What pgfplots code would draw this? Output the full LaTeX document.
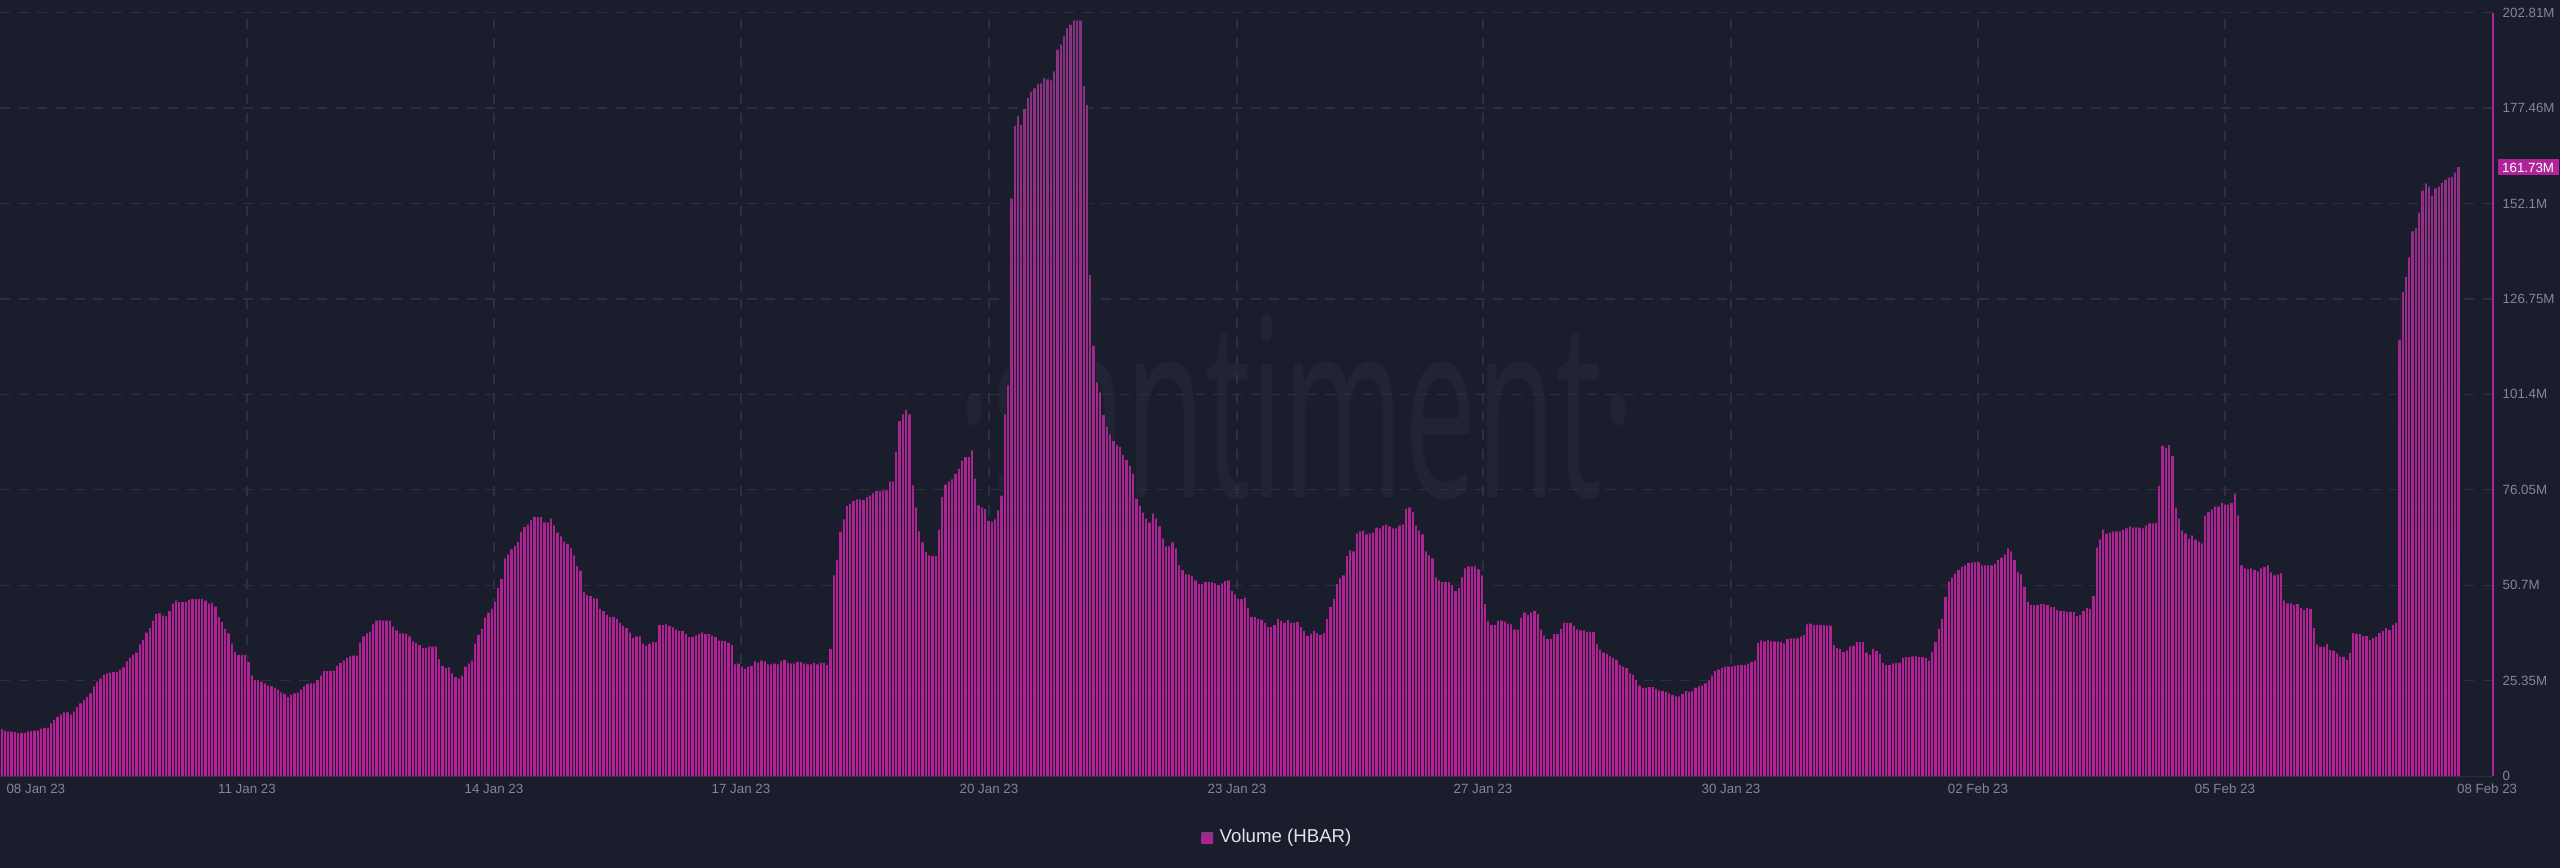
\documentclass[border=0pt]{standalone}
\usepackage{fontspec}
\setmainfont{Liberation Sans}
\newfontfamily\wmfont{Open Sans}
\usepackage{graphicx}
\usepackage{pgfplots}
\usepackage{pgfplotstable}
\pgfplotsset{compat=1.18}

\definecolor{bg}{RGB}{26,29,44}
\definecolor{gridc}{RGB}{44,48,64}
\definecolor{tickc}{RGB}{128,134,156}
\definecolor{wmc}{RGB}{32,36,52}
\definecolor{barTop}{RGB}{134,52,129}
\definecolor{barBot}{RGB}{188,28,152}
\definecolor{mag}{RGB}{176,36,154}
\definecolor{legtext}{RGB}{225,226,235}

% hourly trading volume of HBAR, in millions (08 Jan 23 -- 08 Feb 23)
\pgfplotstableread[row sep=\\]{
v\\
12.5\\ 12.0\\ 11.8\\ 11.8\\ 11.7\\ 11.4\\ 11.4\\ 11.5\\ 11.9\\ 12.0\\
12.0\\ 12.1\\ 12.6\\ 12.8\\ 12.8\\ 14.0\\ 14.9\\ 15.7\\ 16.3\\ 16.9\\
16.9\\ 16.3\\ 17.1\\ 18.3\\ 19.3\\ 20.2\\ 21.0\\ 22.0\\ 23.8\\ 25.0\\
25.9\\ 26.9\\ 27.3\\ 27.5\\ 27.6\\ 27.7\\ 28.3\\ 28.9\\ 30.5\\ 31.4\\
32.2\\ 32.8\\ 35.0\\ 36.2\\ 38.1\\ 39.3\\ 41.3\\ 43.0\\ 43.2\\ 42.6\\
42.4\\ 43.8\\ 45.8\\ 46.6\\ 46.2\\ 46.2\\ 46.3\\ 46.8\\ 47.0\\ 47.0\\
47.0\\ 47.0\\ 46.6\\ 45.8\\ 46.0\\ 45.0\\ 42.3\\ 40.9\\ 39.1\\ 37.9\\
35.2\\ 33.0\\ 32.2\\ 32.2\\ 32.1\\ 30.3\\ 26.7\\ 25.5\\ 25.5\\ 25.0\\
24.6\\ 24.0\\ 23.8\\ 23.4\\ 23.0\\ 22.2\\ 21.8\\ 21.0\\ 21.6\\ 22.0\\
22.2\\ 23.0\\ 23.8\\ 24.4\\ 24.6\\ 24.6\\ 25.5\\ 26.7\\ 27.9\\ 27.9\\
27.9\\ 28.0\\ 29.3\\ 30.1\\ 30.7\\ 31.4\\ 31.8\\ 32.0\\ 32.0\\ 35.4\\
37.1\\ 37.9\\ 38.3\\ 40.3\\ 41.3\\ 41.4\\ 41.3\\ 41.3\\ 41.2\\ 39.7\\
38.7\\ 37.9\\ 37.9\\ 37.8\\ 37.1\\ 35.8\\ 35.4\\ 34.8\\ 34.0\\ 34.0\\
34.4\\ 34.4\\ 34.4\\ 31.0\\ 29.3\\ 28.7\\ 28.9\\ 27.3\\ 26.3\\ 25.9\\
26.7\\ 29.1\\ 29.9\\ 30.7\\ 35.2\\ 37.5\\ 39.1\\ 42.1\\ 43.4\\ 44.4\\
46.2\\ 49.9\\ 52.3\\ 57.8\\ 58.9\\ 60.2\\ 61.1\\ 62.2\\ 64.9\\ 66.2\\
66.8\\ 68.0\\ 68.8\\ 68.8\\ 68.8\\ 67.4\\ 67.4\\ 68.4\\ 66.6\\ 64.7\\
63.7\\ 62.3\\ 61.7\\ 60.5\\ 58.6\\ 55.8\\ 54.6\\ 48.9\\ 48.1\\ 47.8\\
47.2\\ 47.2\\ 44.4\\ 43.8\\ 42.8\\ 42.3\\ 42.3\\ 41.7\\ 40.7\\ 39.9\\
39.3\\ 38.1\\ 36.7\\ 37.1\\ 37.1\\ 35.2\\ 34.6\\ 35.2\\ 35.6\\ 35.6\\
40.1\\ 40.1\\ 40.3\\ 39.9\\ 39.5\\ 38.9\\ 38.5\\ 38.5\\ 37.7\\ 36.9\\
36.9\\ 37.3\\ 37.7\\ 38.1\\ 37.7\\ 37.7\\ 37.3\\ 36.9\\ 36.0\\ 35.9\\
35.9\\ 35.4\\ 34.8\\ 29.7\\ 29.9\\ 29.1\\ 28.5\\ 29.1\\ 29.3\\ 30.5\\
30.1\\ 30.7\\ 30.5\\ 29.7\\ 29.7\\ 29.9\\ 29.7\\ 30.5\\ 30.9\\ 30.1\\
29.9\\ 29.9\\ 30.3\\ 30.3\\ 29.9\\ 29.7\\ 29.7\\ 30.1\\ 29.7\\ 30.1\\
30.1\\ 29.5\\ 33.8\\ 53.3\\ 57.4\\ 64.9\\ 68.2\\ 71.7\\ 72.3\\ 73.1\\
73.5\\ 73.5\\ 73.3\\ 74.1\\ 74.5\\ 75.1\\ 75.7\\ 75.7\\ 75.9\\ 75.9\\
78.2\\ 78.2\\ 86.1\\ 94.3\\ 96.1\\ 97.3\\ 96.1\\ 77.2\\ 71.3\\ 65.0\\
62.1\\ 59.5\\ 58.6\\ 58.4\\ 58.4\\ 65.4\\ 74.1\\ 77.4\\ 78.2\\ 78.8\\
80.2\\ 81.6\\ 83.7\\ 84.7\\ 84.7\\ 86.5\\ 79.0\\ 71.9\\ 71.3\\ 70.9\\
67.8\\ 67.6\\ 68.2\\ 70.6\\ 74.5\\ 96.1\\ 103.8\\ 153.4\\ 172.7\\ 175.3\\
173.0\\ 177.2\\ 180.1\\ 181.7\\ 182.7\\ 183.8\\ 184.0\\ 185.4\\ 185.1\\ 184.8\\
187.2\\ 193.0\\ 194.3\\ 196.5\\ 198.6\\ 199.6\\ 200.7\\ 200.7\\ 200.7\\ 183.3\\
178.2\\ 133.1\\ 114.3\\ 104.6\\ 101.9\\ 95.9\\ 92.7\\ 90.8\\ 89.0\\ 87.9\\
87.4\\ 85.3\\ 84.0\\ 82.4\\ 80.3\\ 73.7\\ 71.8\\ 70.0\\ 68.4\\ 67.3\\
69.7\\ 68.4\\ 66.3\\ 63.1\\ 61.0\\ 61.0\\ 62.1\\ 60.5\\ 56.0\\ 54.7\\
53.6\\ 53.6\\ 53.1\\ 52.0\\ 51.0\\ 51.0\\ 51.5\\ 51.5\\ 51.5\\ 51.2\\
50.7\\ 51.2\\ 51.8\\ 52.0\\ 49.1\\ 48.3\\ 47.0\\ 47.0\\ 47.5\\ 44.6\\
42.2\\ 42.2\\ 41.7\\ 41.5\\ 40.7\\ 39.6\\ 39.6\\ 40.1\\ 41.7\\ 41.2\\
40.7\\ 41.5\\ 40.7\\ 40.7\\ 40.9\\ 39.6\\ 38.6\\ 37.2\\ 37.8\\ 38.6\\
38.0\\ 37.5\\ 38.0\\ 41.7\\ 44.9\\ 47.0\\ 51.0\\ 52.5\\ 53.3\\ 58.4\\
59.9\\ 59.7\\ 64.4\\ 65.0\\ 65.2\\ 64.2\\ 64.4\\ 64.7\\ 66.0\\ 65.8\\
66.5\\ 66.8\\ 66.3\\ 65.8\\ 65.8\\ 66.5\\ 66.8\\ 71.0\\ 71.3\\ 70.2\\
66.5\\ 65.2\\ 64.2\\ 59.7\\ 58.6\\ 57.8\\ 52.8\\ 52.0\\ 51.5\\ 51.5\\
51.5\\ 50.7\\ 49.1\\ 49.9\\ 52.8\\ 55.2\\ 55.7\\ 55.7\\ 55.7\\ 54.9\\
53.3\\ 45.7\\ 41.2\\ 40.1\\ 40.1\\ 41.2\\ 41.3\\ 41.0\\ 40.5\\ 40.3\\
38.9\\ 38.9\\ 42.0\\ 43.4\\ 42.8\\ 43.4\\ 43.8\\ 43.0\\ 38.9\\ 37.3\\
36.4\\ 36.4\\ 37.7\\ 37.7\\ 39.1\\ 40.7\\ 40.7\\ 40.7\\ 39.9\\ 38.9\\
38.7\\ 38.7\\ 38.3\\ 38.3\\ 38.3\\ 35.0\\ 33.6\\ 32.8\\ 32.4\\ 31.8\\
31.4\\ 30.9\\ 29.5\\ 29.1\\ 28.7\\ 27.3\\ 26.9\\ 25.5\\ 24.0\\ 23.4\\
23.4\\ 23.6\\ 23.6\\ 23.2\\ 22.8\\ 22.6\\ 22.4\\ 22.0\\ 21.6\\ 21.2\\
21.2\\ 21.8\\ 22.6\\ 22.4\\ 22.6\\ 23.4\\ 23.8\\ 24.0\\ 24.6\\ 25.4\\
26.7\\ 27.9\\ 28.3\\ 28.7\\ 29.1\\ 29.1\\ 29.1\\ 29.3\\ 29.5\\ 29.5\\
29.5\\ 29.9\\ 30.3\\ 30.7\\ 35.4\\ 36.0\\ 35.8\\ 36.2\\ 35.8\\ 35.8\\
35.8\\ 35.6\\ 35.2\\ 36.4\\ 36.6\\ 36.6\\ 36.6\\ 37.1\\ 37.5\\ 40.3\\
40.5\\ 40.1\\ 40.1\\ 40.1\\ 40.1\\ 40.0\\ 39.9\\ 34.8\\ 34.0\\ 33.8\\
33.0\\ 33.4\\ 34.4\\ 34.6\\ 35.6\\ 35.6\\ 35.6\\ 32.8\\ 32.2\\ 33.8\\
33.2\\ 32.4\\ 30.1\\ 29.5\\ 29.5\\ 29.9\\ 30.1\\ 30.1\\ 31.4\\ 31.6\\
31.6\\ 31.8\\ 31.8\\ 31.6\\ 31.6\\ 31.4\\ 30.7\\ 33.0\\ 35.6\\ 39.1\\
41.7\\ 47.6\\ 51.7\\ 52.7\\ 53.8\\ 54.8\\ 55.6\\ 56.0\\ 56.6\\ 56.8\\
56.8\\ 56.8\\ 56.0\\ 56.0\\ 56.0\\ 56.0\\ 56.4\\ 57.4\\ 58.0\\ 58.8\\
60.5\\ 59.7\\ 57.4\\ 54.2\\
53.6\\ 50.2\\ 46.2\\ 45.4\\ 45.4\\ 45.4\\ 45.7\\ 45.7\\ 45.4\\ 44.9\\
44.9\\ 44.1\\ 43.8\\ 43.8\\ 43.6\\ 43.6\\ 43.6\\ 42.5\\ 42.8\\ 43.8\\
44.6\\ 44.4\\ 47.8\\ 60.7\\ 62.8\\ 65.5\\ 64.4\\ 64.7\\ 65.0\\ 65.0\\
65.0\\ 65.5\\ 65.8\\ 66.3\\ 66.0\\ 66.0\\ 66.0\\ 65.8\\ 66.5\\ 67.1\\
67.1\\ 67.3\\ 77.1\\ 87.7\\ 87.1\\ 87.9\\ 85.0\\ 71.3\\ 68.4\\ 65.2\\
64.4\\ 63.1\\ 63.9\\ 62.8\\ 62.3\\ 61.8\\ 69.2\\ 70.2\\ 70.8\\ 71.6\\
71.6\\ 72.6\\ 72.1\\ 72.1\\ 72.6\\ 75.0\\ 69.2\\ 56.0\\ 55.2\\ 54.9\\
55.2\\ 54.7\\ 54.4\\ 55.2\\ 55.5\\ 56.0\\ 54.1\\ 53.3\\ 53.6\\ 53.9\\
46.7\\ 45.9\\ 45.9\\ 45.4\\ 45.7\\ 44.6\\ 44.1\\ 44.6\\ 44.4\\ 39.3\\
34.9\\ 34.3\\ 34.3\\ 35.1\\ 33.5\\ 33.3\\ 32.5\\ 31.7\\ 31.7\\ 30.9\\
32.7\\ 38.0\\ 37.8\\ 37.8\\ 37.2\\ 37.2\\ 36.2\\ 36.7\\ 37.0\\ 38.0\\
38.6\\ 39.3\\ 38.8\\ 40.1\\ 40.7\\ 115.9\\ 128.6\\ 132.6\\ 137.8\\ 144.7\\
145.5\\ 149.7\\ 155.5\\ 157.4\\ 156.6\\ 154.2\\ 156.1\\ 156.6\\ 157.6\\ 158.4\\
159.0\\ 159.2\\ 160.3\\ 161.73\\
161.73\\
}\voldata
% (the last row repeats the final value only to close the last step of the area)

\begin{document}
\begin{tikzpicture}[x=1pt,y=1pt]
\useasboundingbox (0,0) rectangle (768,260.1);
\fill[bg] (-2,-2) rectangle (770,262);
\node[text=wmc, anchor=base, inner sep=0pt,
      font=\wmfont\fontsize{74.7}{74.7}\selectfont] at (389.1,111)
      {\scalebox{0.52}[1]{·santiment·}};
\begin{axis}[
  at={(0,24.15)}, anchor=south west,
  scale only axis, width=747.9pt, height=229.05pt,
  xmin=-0.5, xmax=757.5, ymin=0, ymax=202.81,
  axis x line*=bottom, axis y line*=right,
  x axis line style={gridc, line width=0.35pt, -},
  y axis line style={mag, line width=0.35pt, -},
  major tick length=0pt, minor tick length=0pt,
  ytick={0,25.35,50.7,76.05,101.4,126.75,152.1,177.46,202.81},
  yticklabels={0,25.35M,50.7M,76.05M,101.4M,126.75M,152.1M,177.46M,202.81M},
  xtick={74.6,149.7,224.8,300.2,375.6,450.4,525.8,600.9,676.0},
  xticklabels={11 Jan 23,14 Jan 23,17 Jan 23,20 Jan 23,23 Jan 23,27 Jan 23,30 Jan 23,02 Feb 23,05 Feb 23},
  extra x ticks={10.4,755.7},
  extra x tick labels={08 Jan 23,08 Feb 23},
  extra x tick style={grid=none},
  grid=major,
  major grid style={gridc, line width=0.35pt, dash pattern=on 3pt off 2.6pt},
  ticklabel style={font=\fontsize{4}{4.8}\selectfont, text=tickc},
  yticklabel style={anchor=west, inner sep=0pt, xshift=2.7pt},
  xticklabel style={anchor=center, inner sep=0pt, yshift=-3.9pt},
  legend style={at={(0.5134,-0.0808)}, anchor=center, draw=none, fill=none,
    text=legtext, font=\fontsize{5.6}{6.7}\selectfont, inner sep=0pt,
    /tikz/every even column/.append style={column sep=0pt}},
]
\addplot[const plot mark left, draw=none, top color=barTop, bottom color=barBot,
  legend image code/.code={\fill[mag] (0pt,-1.7pt) rectangle (3.4pt,1.7pt);}]
  table[x expr=\coordindex-0.5, y=v]{\voldata} \closedcycle;
\addlegendentry{Volume (HBAR)}
\addplot[ycomb, draw=bg, line width=0.27pt, no marks, forget plot]
  table[x expr=\coordindex-0.5, y=v]{\voldata};
\addplot[ycomb, draw=bg, line width=0.27pt, no marks, forget plot, skip coords between index={748}{749}]
  table[x expr=\coordindex+0.5, y=v]{\voldata};
\coordinate (lab) at (axis cs:757.5,161.73);
\end{axis}
\node[fill=mag, text=white, anchor=west, inner xsep=1.35pt, inner ysep=0.9pt,
      text height=2.9pt, text depth=0pt, font=\fontsize{4}{4.8}\selectfont]
      at ([xshift=1.2pt]lab) {161.73M};
\end{tikzpicture}
\end{document}
